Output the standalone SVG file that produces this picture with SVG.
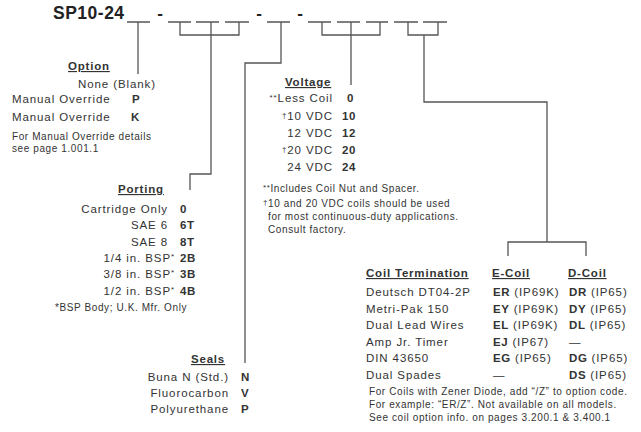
<svg xmlns="http://www.w3.org/2000/svg" width="641" height="432" viewBox="0 0 641 432">
<style>
text{font-family:"Liberation Sans",Arial,sans-serif;fill:#333;}
.t{font-size:11.5px;letter-spacing:0.9px;}
.s{font-size:10px;letter-spacing:0.6px;}
.b{font-size:11.5px;font-weight:bold;letter-spacing:0.6px;}
.h{font-size:11.5px;font-weight:bold;letter-spacing:0.8px;text-decoration:underline;}
.e{text-anchor:end;}
.title{font-size:17.5px;font-weight:bold;fill:#222;letter-spacing:0.5px;}
.d{font-size:17px;font-weight:bold;fill:#222;text-anchor:middle;}
.sup{font-size:8px;}
.ln{fill:none;stroke:#555;stroke-width:1.3;}
</style>
<rect width="641" height="432" fill="#fff"/>
<g id="title">
<text class="title" x="53" y="19">SP10-24</text>
<text class="d" x="160" y="19">-</text>
<text class="d" x="259" y="19">-</text>
<text class="d" x="300" y="19">-</text>
</g>
<g id="connectors" class="ln">
<path d="M127 22H150M168 22H191M196 22H219M225 22H249M267 22H290M308 22H331M337 22H360M366 22H388M394 22H418M423 22H447"/>
<path d="M138 22V74"/>
<path d="M180 22V35H239V22M211 22V174H190V190"/>
<path d="M281 22V63H245V363"/>
<path d="M322 22V35H380V22M351 22V85"/>
<path d="M408 22V35H438V22M424 35V102H547V242M508 256V242H586V256"/>
</g>
<g id="option">
<text class="h" x="68" y="70">Option</text>
<text class="t" x="78" y="88">None (Blank)</text>
<text class="t" x="12" y="103">Manual Override</text><text class="b" x="132" y="103">P</text>
<text class="t" x="12" y="121">Manual Override</text><text class="b" x="131" y="121">K</text>
<text class="s" x="12" y="140">For Manual Override details</text>
<text class="s" x="12" y="152">see page 1.001.1</text>
</g>
<g id="porting">
<text class="h" x="118" y="193">Porting</text>
<text class="t e" x="168" y="213">Cartridge Only</text><text class="b" x="180" y="213">0</text>
<text class="t e" x="168" y="229">SAE 6</text><text class="b" x="180" y="229">6T</text>
<text class="t e" x="168" y="246">SAE 8</text><text class="b" x="180" y="246">8T</text>
<text class="t e" x="175" y="262">1/4 in. BSP<tspan class="sup" dy="-3">*</tspan></text><text class="b" x="180" y="262">2B</text>
<text class="t e" x="175" y="278">3/8 in. BSP<tspan class="sup" dy="-3">*</tspan></text><text class="b" x="180" y="278">3B</text>
<text class="t e" x="175" y="295">1/2 in. BSP<tspan class="sup" dy="-3">*</tspan></text><text class="b" x="180" y="295">4B</text>
<text class="s" x="55" y="311">*BSP Body; U.K. Mfr. Only</text>
</g>
<g id="seals">
<text class="h" x="191" y="363">Seals</text>
<text class="t e" x="229" y="381">Buna N (Std.)</text><text class="b" x="241" y="381">N</text>
<text class="t e" x="229" y="397">Fluorocarbon</text><text class="b" x="241" y="397">V</text>
<text class="t e" x="229" y="413">Polyurethane</text><text class="b" x="241" y="413">P</text>
</g>
<g id="voltage">
<text class="h" x="285" y="86">Voltage</text>
<text class="t e" x="333" y="102"><tspan class="sup" dy="-2">**</tspan><tspan dy="2">Less Coil</tspan></text><text class="b" x="347" y="102">0</text>
<text class="t e" x="333" y="120"><tspan class="sup" dy="-2">†</tspan><tspan dy="2">10 VDC</tspan></text><text class="b" x="342" y="120">10</text>
<text class="t e" x="333" y="137">12 VDC</text><text class="b" x="342" y="137">12</text>
<text class="t e" x="333" y="154"><tspan class="sup" dy="-2">†</tspan><tspan dy="2">20 VDC</tspan></text><text class="b" x="342" y="154">20</text>
<text class="t e" x="333" y="171">24 VDC</text><text class="b" x="342" y="171">24</text>
<text class="s" x="263" y="192"><tspan class="sup" dy="-2">**</tspan><tspan dy="2">Includes Coil Nut and Spacer.</tspan></text>
<text class="s" x="263" y="207"><tspan class="sup" dy="-2">†</tspan><tspan dy="2">10 and 20 VDC coils should be used</tspan></text>
<text class="s" x="268" y="220">for most continuous-duty applications.</text>
<text class="s" x="268" y="233">Consult factory.</text>
</g>
<g id="coil">
<text class="h" x="366" y="277">Coil Termination</text>
<text class="h" x="492" y="277">E-Coil</text>
<text class="h" x="568" y="277">D-Coil</text>
<text class="t" x="366" y="296">Deutsch DT04-2P</text>
<text class="t" x="493" y="296"><tspan class="b">ER</tspan> (IP69K)</text>
<text class="t" x="569" y="296"><tspan class="b">DR</tspan> (IP65)</text>
<text class="t" x="366" y="312.5">Metri-Pak 150</text>
<text class="t" x="493" y="312.5"><tspan class="b">EY</tspan> (IP69K)</text>
<text class="t" x="569" y="312.5"><tspan class="b">DY</tspan> (IP65)</text>
<text class="t" x="366" y="329">Dual Lead Wires</text>
<text class="t" x="493" y="329"><tspan class="b">EL</tspan> (IP69K)</text>
<text class="t" x="569" y="329"><tspan class="b">DL</tspan> (IP65)</text>
<text class="t" x="366" y="345.5">Amp Jr. Timer</text>
<text class="t" x="493" y="345.5"><tspan class="b">EJ</tspan> (IP67)</text>
<text class="t" x="569" y="345.5">—</text>
<text class="t" x="366" y="362">DIN 43650</text>
<text class="t" x="493" y="362"><tspan class="b">EG</tspan> (IP65)</text>
<text class="t" x="569" y="362"><tspan class="b">DG</tspan> (IP65)</text>
<text class="t" x="366" y="378.5">Dual Spades</text>
<text class="t" x="493" y="378.5">—</text>
<text class="t" x="569" y="378.5"><tspan class="b">DS</tspan> (IP65)</text>
<text class="s" x="369" y="395">For Coils with Zener Diode, add “/Z” to option code.</text>
<text class="s" x="369" y="408">For example: “ER/Z”. Not available on all models.</text>
<text class="s" x="369" y="421">See coil option info. on pages 3.200.1 &amp; 3.400.1</text>
</g>
</svg>
